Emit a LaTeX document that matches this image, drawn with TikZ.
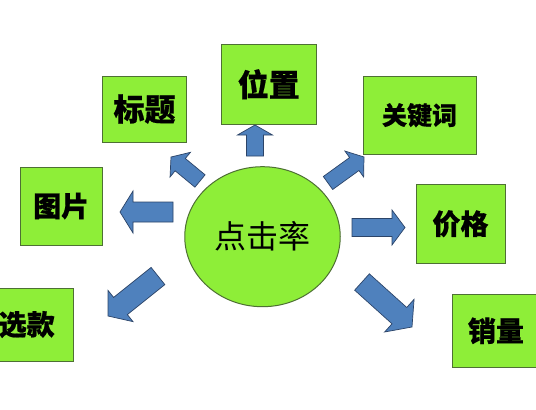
\documentclass[tikz,border=0pt]{standalone}
\usepackage{fontspec}
\newfontfamily\cjk{Noto Sans CJK SC}[BoldFeatures={FakeBold=0.6}]
\usetikzlibrary{calc,shapes.geometric}
\definecolor{lime}{RGB}{142,238,56}
\definecolor{limeline}{RGB}{78,112,52}
\definecolor{arrblue}{RGB}{79,129,189}
\definecolor{arrline}{RGB}{44,68,104}
\tikzset{
  box/.style={draw=limeline, line width=0.9pt, fill=lime, inner sep=0pt, font=\cjk\bfseries},
  hub/.style={ellipse, draw=limeline, line width=1pt, fill=lime, inner sep=0pt, font=\cjk},
  arr/.style={draw=arrline, line width=0.7pt, fill=arrblue, line join=miter}
}
% block arrow: start, tip, shaft half width, head half width, head length
\newcommand\blockarrow[5]{%
  \coordinate (ba) at ($(#2)!#5!(#1)$);
  \draw[arr] ($(#1)!#3!90:(#2)$) -- ($(ba)!#3!-90:(#1)$) -- ($(ba)!#4!-90:(#1)$)
    -- (#2) -- ($(ba)!#4!90:(#1)$) -- ($(ba)!#3!90:(#1)$) -- ($(#1)!#3!-90:(#2)$) -- cycle;
}
\begin{document}
\begin{tikzpicture}[x=1pt,y=-1pt]
\useasboundingbox (0,0) rectangle (536,410);
\clip (0,0) rectangle (536,410);
\fill[white] (0,0) rectangle (536,410);
% boxes
\node[box, minimum width=94.5pt, minimum height=79.5pt, font=\cjk\bfseries\fontsize{31}{31}\selectfont] (wz) at (268.75,84.25) {位置};
\node[box, minimum width=84pt, minimum height=66pt, font=\cjk\bfseries\fontsize{31}{31}\selectfont] (bt) at (144.5,109) {标题};
\node[box, minimum width=113pt, minimum height=78.5pt, font=\cjk\bfseries\fontsize{25}{25}\selectfont] (gjc) at (419.5,115.25) {关键词};
\node[box, minimum width=82.5pt, minimum height=78pt, font=\cjk\bfseries\fontsize{28}{28}\selectfont] (tp) at (61.25,206) {图片};
\node[box, minimum width=89pt, minimum height=78.5pt, font=\cjk\bfseries\fontsize{28}{28}\selectfont] (jg) at (460.5,223.75) {价格};
\node[box, minimum width=93.5pt, minimum height=73pt, font=\cjk\bfseries\fontsize{28}{28}\selectfont] (xk) at (26.75,324.5) {选款};
\node[box, minimum width=88pt, minimum height=73.5pt, font=\cjk\bfseries\fontsize{28}{28}\selectfont] (xl) at (496,330.75) {销量};
% hub
\node[hub, minimum width=155.5pt, minimum height=140pt, font=\cjk\fontsize{32}{32}\selectfont] (hub) at (262.5,236.7) {点击率};
% arrows
\coordinate (s1) at (255,156);   \coordinate (t1) at (255,125);
\coordinate (s2) at (200,181);   \coordinate (t2) at (171,157);
\coordinate (s3) at (328,183);   \coordinate (t3) at (364,157);
\coordinate (s4) at (173,212);   \coordinate (t4) at (120,212);
\coordinate (s5) at (352,227.5); \coordinate (t5) at (405,227.5);
\coordinate (s6) at (158,276);   \coordinate (t6) at (108,316);
\coordinate (s7) at (362,282);   \coordinate (t7) at (412,327);
\blockarrow{s1}{t1}{8.5pt}{17.5pt}{10pt}
\blockarrow{s2}{t2}{8pt}{16pt}{12pt}
\blockarrow{s3}{t3}{8pt}{16pt}{12pt}
\blockarrow{s4}{t4}{10pt}{21pt}{13pt}
\blockarrow{s5}{t5}{9pt}{17.5pt}{13pt}
\blockarrow{s6}{t6}{11pt}{20pt}{16pt}
\blockarrow{s7}{t7}{11pt}{22pt}{17pt}
\end{tikzpicture}
\end{document}
